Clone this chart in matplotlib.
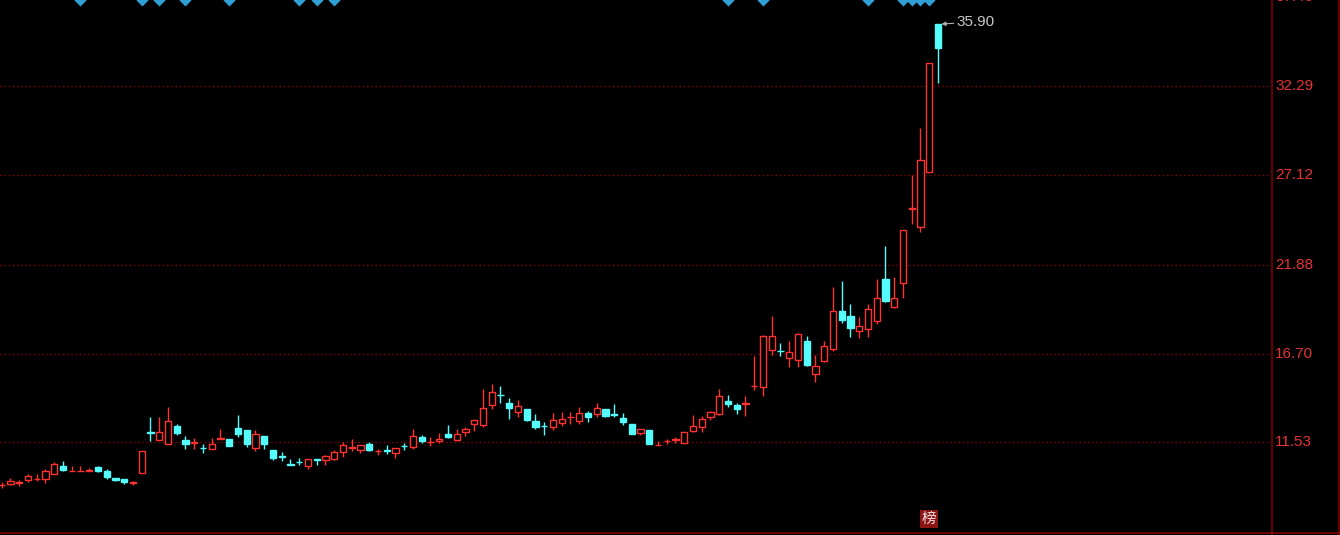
import numpy as np
import matplotlib
matplotlib.use('Agg')
import matplotlib.pyplot as plt
from matplotlib.lines import Line2D

plt.rcParams['font.family'] = ['Liberation Sans', 'Noto Sans CJK SC', 'DejaVu Sans']

# daily candles (open, high, low, close)
opens = [9.02, 9.08, 9.17, 9.35, 9.38, 9.37, 9.66, 10.17, 9.85, 9.83,
         9.87, 10.09, 9.86, 9.47, 9.41, 9.17, 9.72, 12.12, 11.69, 11.41,
         12.48, 11.65, 11.50, 11.19, 11.12, 11.73, 11.72, 12.38, 12.25, 11.20,
         11.90, 11.08, 10.70, 10.23, 10.39, 10.15, 10.58, 10.52, 10.58, 10.96,
         11.21, 11.06, 11.40, 11.01, 11.10, 10.93, 11.31, 11.26, 11.84, 11.54,
         11.61, 12.03, 11.69, 12.13, 12.58, 12.56, 13.69, 14.28, 13.84, 13.30,
         13.44, 12.77, 12.47, 12.42, 12.66, 12.99, 12.77, 13.24, 13.16, 13.49,
         13.15, 12.97, 12.62, 12.07, 12.27, 11.35, 11.60, 11.68, 11.51, 12.19,
         12.42, 13.00, 13.16, 13.94, 13.69, 13.77, 14.79, 14.75, 16.88, 16.86,
         16.45, 16.35, 17.44, 15.50, 16.27, 16.94, 19.19, 18.89, 18.04, 18.12,
         18.60, 21.07, 19.42, 20.82, 25.15, 24.08, 27.29, 35.90]
highs = [9.22, 9.47, 9.35, 9.66, 9.70, 10.00, 10.38, 10.44, 10.15, 10.13,
         10.05, 10.15, 9.96, 9.47, 9.41, 9.30, 11.01, 13.00, 13.00, 13.59,
         12.62, 11.90, 11.80, 11.40, 11.80, 12.33, 11.72, 13.14, 12.25, 12.27,
         11.90, 11.08, 10.96, 10.58, 10.64, 10.58, 10.58, 10.81, 11.10, 11.55,
         11.74, 11.36, 11.55, 11.16, 11.36, 11.22, 11.49, 12.33, 11.94, 11.84,
         12.07, 12.52, 12.33, 12.42, 12.81, 14.66, 14.95, 14.81, 14.08, 14.02,
         13.49, 13.20, 12.71, 13.24, 13.30, 13.30, 13.59, 13.36, 13.82, 13.49,
         13.78, 13.26, 12.62, 12.33, 12.27, 11.61, 11.74, 11.84, 12.10, 13.14,
         13.05, 13.33, 14.66, 14.31, 13.84, 14.21, 16.54, 17.77, 18.89, 17.34,
         17.44, 17.87, 17.73, 16.64, 17.44, 20.59, 20.93, 19.56, 18.84, 19.58,
         21.07, 22.95, 21.17, 23.88, 27.09, 29.86, 33.60, 35.90]
lows = [8.85, 9.06, 9.00, 9.22, 9.27, 9.16, 9.66, 9.86, 9.85, 9.83,
        9.87, 9.80, 9.41, 9.27, 9.08, 9.06, 9.72, 11.61, 11.69, 11.41,
        11.98, 11.12, 11.12, 10.91, 11.12, 11.73, 11.34, 11.84, 11.26, 11.02,
        11.16, 10.48, 10.45, 10.21, 10.21, 10.00, 10.23, 10.23, 10.52, 10.67,
        11.02, 10.91, 11.02, 10.81, 10.87, 10.61, 11.10, 11.16, 11.49, 11.30,
        11.49, 11.78, 11.59, 11.88, 12.17, 12.42, 13.44, 13.82, 12.91, 13.00,
        12.77, 12.33, 11.98, 12.27, 12.48, 12.62, 12.62, 12.71, 13.00, 13.00,
        13.00, 12.56, 12.03, 11.98, 11.41, 11.35, 11.45, 11.51, 11.51, 12.10,
        12.13, 12.85, 13.10, 13.59, 13.16, 13.06, 14.56, 14.23, 16.59, 16.56,
        15.92, 15.92, 15.98, 15.05, 16.18, 16.84, 18.49, 17.67, 17.61, 17.67,
        18.41, 19.71, 19.36, 19.94, 24.22, 23.79, 27.29, 32.48]
closes = [9.04, 9.27, 9.19, 9.56, 9.40, 9.86, 10.29, 9.94, 9.87, 9.85,
          9.89, 9.86, 9.51, 9.35, 9.24, 9.19, 11.01, 12.08, 12.10, 12.75,
          12.07, 11.41, 11.52, 11.17, 11.45, 11.75, 11.34, 12.03, 11.41, 12.03,
          11.40, 10.61, 10.66, 10.21, 10.37, 10.58, 10.48, 10.71, 10.96, 11.36,
          11.23, 11.36, 11.10, 11.03, 11.00, 11.22, 11.29, 11.88, 11.59, 11.56,
          11.74, 11.84, 12.03, 12.33, 12.81, 13.55, 14.43, 14.26, 13.53, 13.65,
          12.85, 12.42, 12.45, 12.81, 12.91, 13.01, 13.26, 13.00, 13.55, 13.06,
          13.13, 12.71, 12.03, 12.33, 11.41, 11.37, 11.62, 11.70, 12.10, 12.46,
          12.91, 13.28, 14.21, 13.73, 13.44, 13.79, 14.81, 17.71, 17.71, 16.84,
          16.76, 17.81, 16.06, 15.96, 17.13, 19.19, 18.68, 18.19, 18.29, 19.27,
          19.91, 19.77, 19.91, 23.88, 25.19, 28.00, 33.60, 34.49]

signal_days = [9, 16, 18, 21, 26, 34, 36, 38, 83, 87, 99, 103, 104, 105, 106]
price_ticks = [11.53, 16.70, 21.88, 27.12, 32.29, 37.46]
last_high = 35.90
bang_day = 106

RED = '#ff3232'
CYAN = '#54fcfc'
DARKRED = '#800000'
W, H = 1340, 535

fig = plt.figure(figsize=(W / 100, H / 100), dpi=100, facecolor='black')
ax = fig.add_axes([0, 3 / H, 1271 / W, 532 / H], facecolor='black')
ax.set_xlim(-0.2, 145.06)
ax.set_ylim(6.30, 37.30)
ax.axis('off')

# dotted price grid
for v in price_ticks:
    ax.axhline(v, color='#8c0000', lw=1, ls=(0, (1, 2)), zorder=1)

# candles
for i, (o, h, l, c) in enumerate(zip(opens, highs, lows, closes)):
    up = c >= o
    col = RED if up else CYAN
    bot = min(o, c)
    body = max(abs(c - o), 0.03)
    ax.vlines(i, l, h, color=col, lw=1, zorder=2)
    ax.bar(i, body, bottom=bot, width=0.72, facecolor='black' if up else col,
           edgecolor=col, lw=1, zorder=3)

# signal diamonds on the top edge
ax.plot(signal_days, [1.0] * len(signal_days), 'D', color='#2f9fd6', ms=6.5,
        mec='none', transform=ax.get_xaxis_transform(), clip_on=True, zorder=4)

# latest high marker
ax.annotate(f'{last_high:.2f}', xy=(len(opens) - 1 + 0.4, last_high),
            xytext=(15, 2), textcoords='offset pixels', ha='left', va='center',
            color='#c8c8c8', fontsize=11,
            arrowprops=dict(arrowstyle='-|>', color='#b0b0b0', lw=0.8,
                            shrinkA=0, shrinkB=0, mutation_scale=6))

# 榜 tag at the bottom
ax.text(bang_day, 0.024, '榜', transform=ax.get_xaxis_transform(), ha='center',
        va='center', color='#f0e0e0', fontsize=10.5, family=['Noto Sans CJK SC', 'DejaVu Sans'],
        bbox=dict(boxstyle='square,pad=0.12', fc='#8b1414', ec='none'), zorder=5)

# price labels on the right
for v in price_ticks:
    ax.text(1275 / 1271, v, f'{v:.2f}', transform=ax.get_yaxis_transform(),
            ha='left', va='center', color='#e63232', fontsize=11, clip_on=False)

# frame lines
fig.add_artist(Line2D([1271.5 / W, 1271.5 / W], [0, 1], color=DARKRED, lw=1.2))
fig.add_artist(Line2D([1338.5 / W, 1338.5 / W], [0, 1], color=DARKRED, lw=1.2))
fig.add_artist(Line2D([0, 1], [2.5 / H, 2.5 / H], color=DARKRED, lw=1.2))

fig.savefig('out.png', dpi=100, facecolor='black')
